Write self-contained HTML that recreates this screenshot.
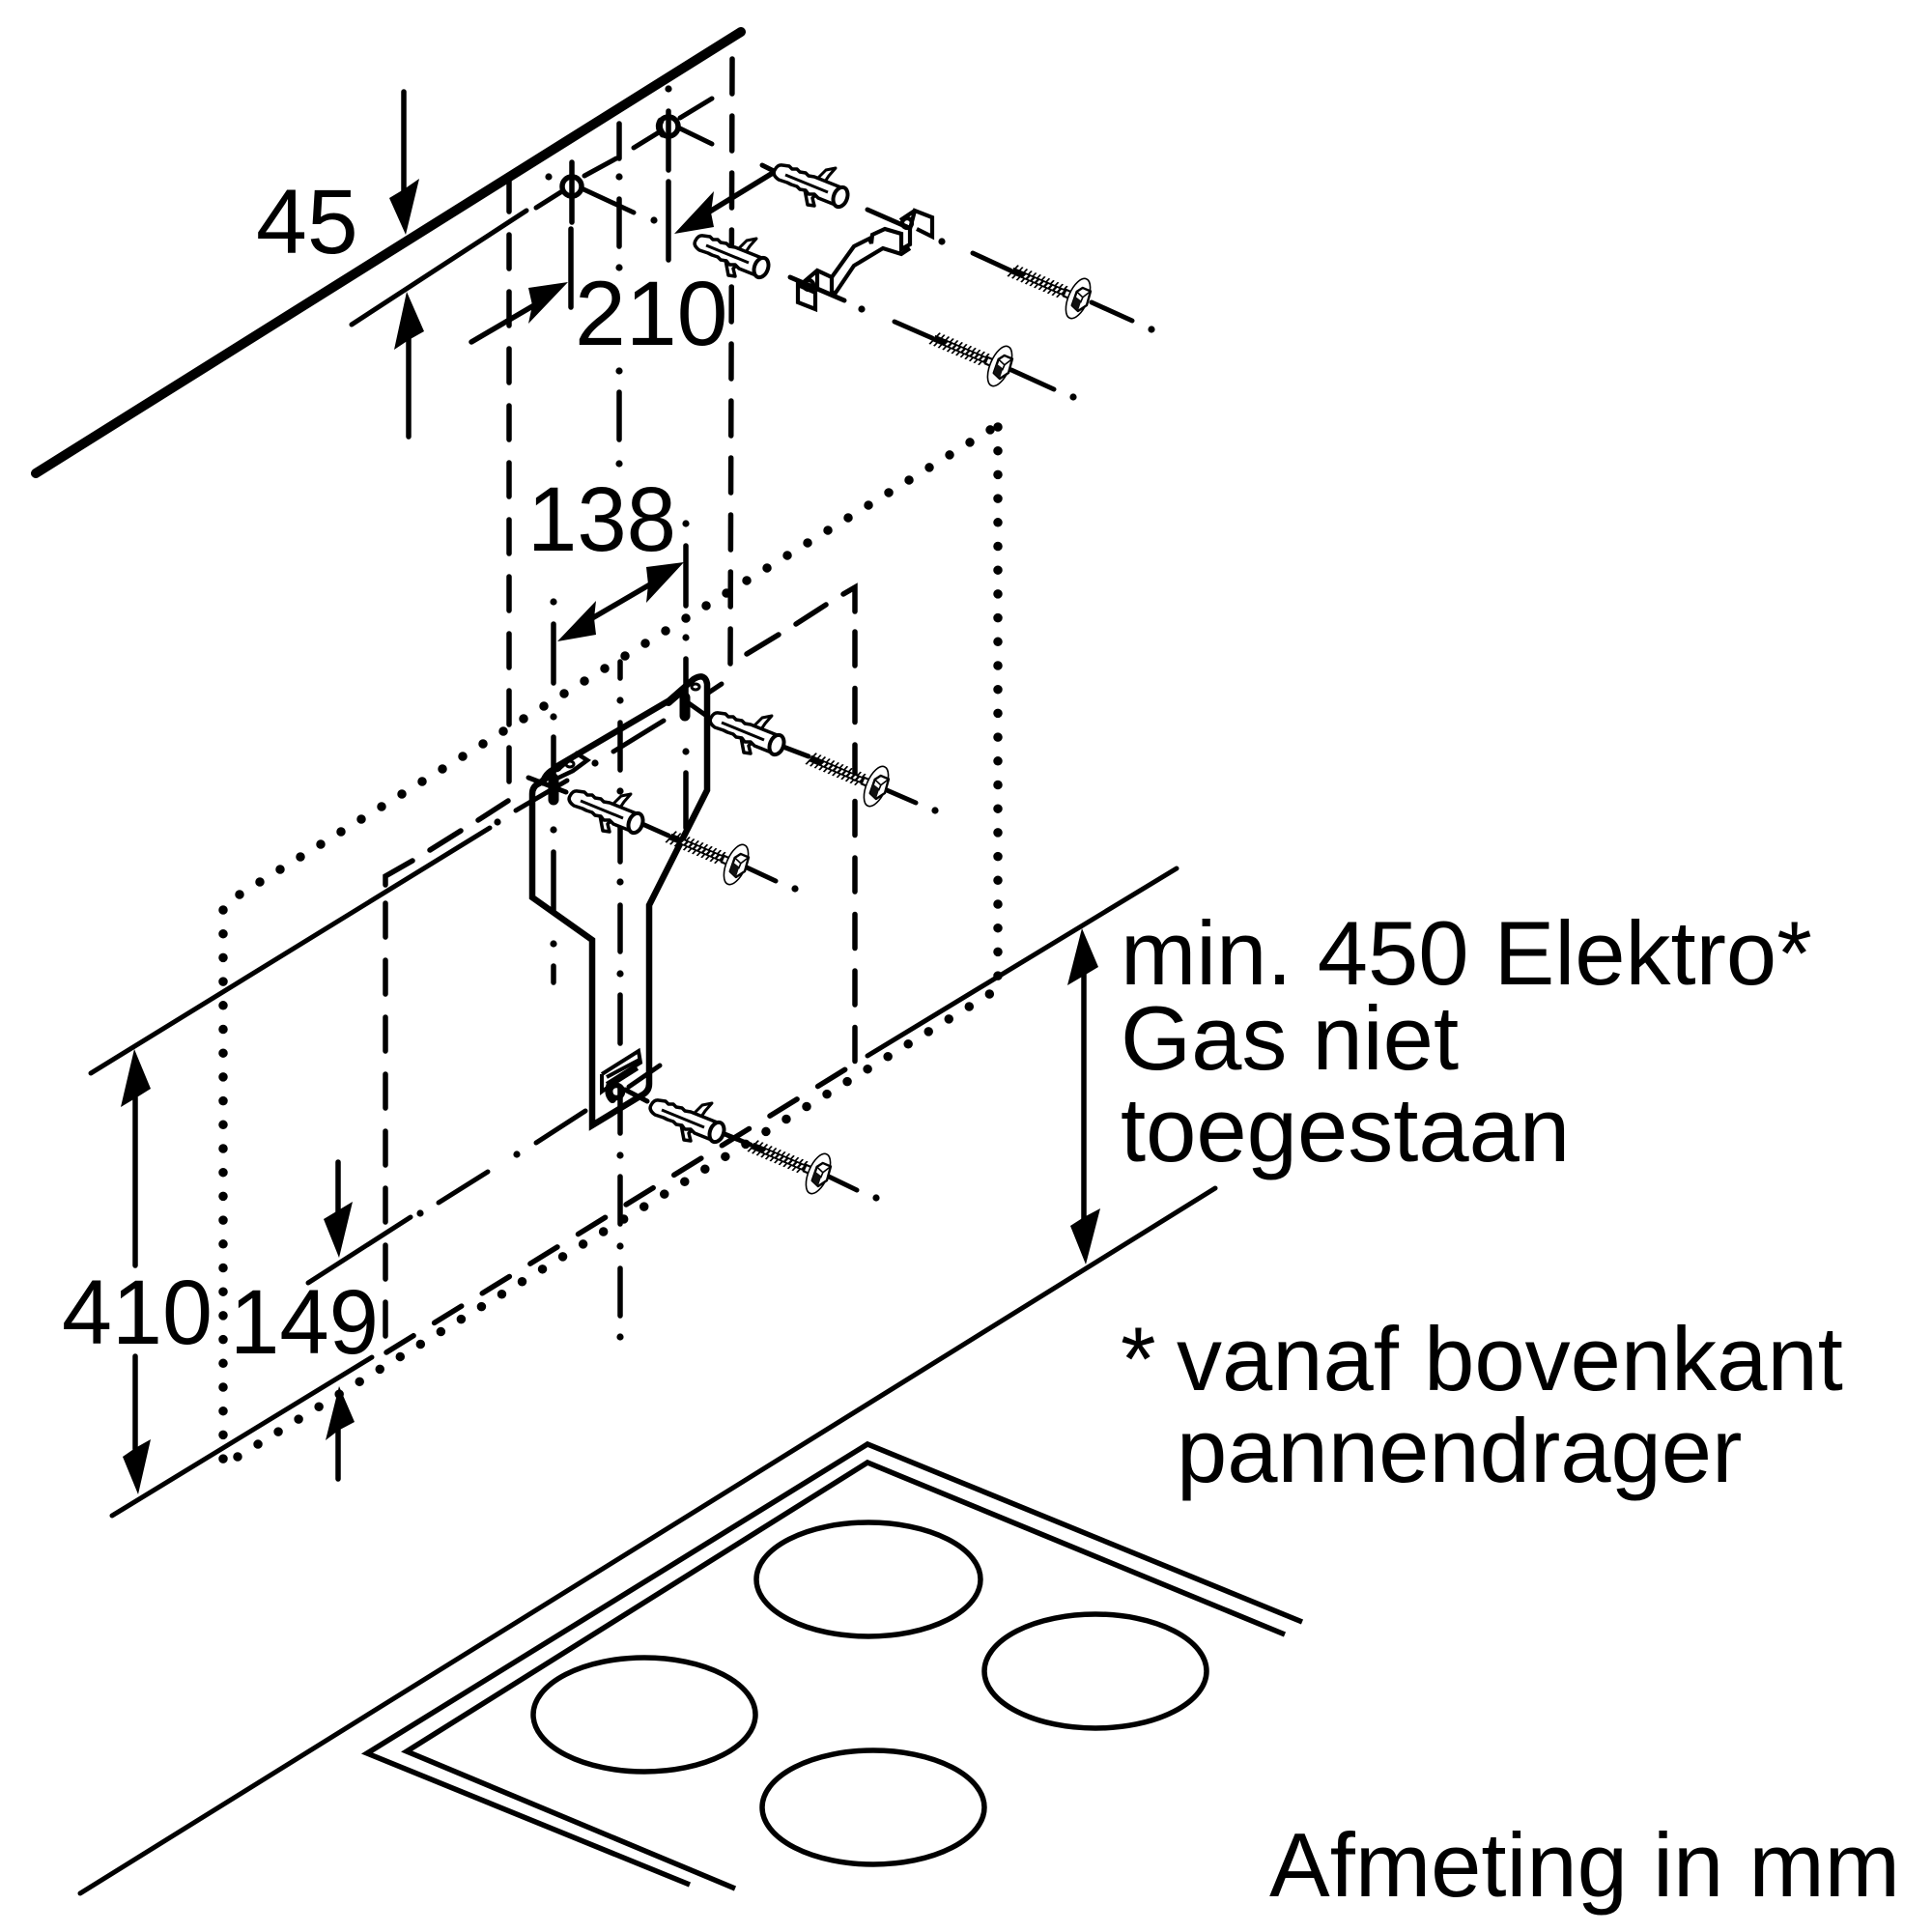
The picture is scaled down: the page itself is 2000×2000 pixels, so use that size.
<!DOCTYPE html>
<html lang="nl">
<head>
<meta charset="utf-8">
<title>Montage diagram</title>
<style>
html,body{margin:0;padding:0;background:#fff}
svg{display:block}
text{font-family:"Liberation Sans",sans-serif;fill:#000}
</style>
</head>
<body>
<svg xmlns="http://www.w3.org/2000/svg" width="2000" height="2000" viewBox="0 0 2000 2000">
<defs>
<g id="dowel">
  <path d="M26,17 L29,33 L36,34 L34,26 L38,22 Z" fill="#fff" stroke="#000" stroke-width="3.5" stroke-linejoin="round"/>
  <path d="M38,7 L48,-3 L58,-5 L51,3 L47,9 Z" fill="#fff" stroke="#000" stroke-width="3" stroke-linejoin="round"/>
  <path d="M3,-8 L10,-7 L13,-4 L18,-4 L21,-1 L27,0 L30,3 L36,4 L66,16 L60,34 L40,26 L36,22 L30,22 L27,18 L21,17 L18,14 L12,12 L8,10 L-1,7 Q-8,2 -5,-3 Q-2,-9 3,-8 Z" fill="#fff" stroke="#000" stroke-width="3.5" stroke-linejoin="round"/>
  <path d="M6,2 L50,20" stroke="#000" stroke-width="3" fill="none"/>
  <ellipse cx="63" cy="25" rx="7" ry="10.5" transform="rotate(20 63 25)" fill="#fff" stroke="#000" stroke-width="4"/>
</g>
<g id="screw">
  <path d="M-74,0 H-14" stroke="#000" stroke-width="7" fill="none"/>
  <g transform="skewX(-20)">
    <path d="M-74,0 H-16" stroke="#000" stroke-width="15" stroke-dasharray="1.8 3.2" fill="none"/>
    <path d="M-60,0 H-16" stroke="#fff" stroke-width="3.5" stroke-dasharray="2.5 2.5" fill="none"/>
  </g>
  <path d="M-16,-3.5 H-7 M-16,3.5 H-7" stroke="#000" stroke-width="2.2" fill="none"/>
  <path d="M-14,0 H-7" stroke="#fff" stroke-width="2" fill="none"/>
  <ellipse cx="0" cy="0" rx="10" ry="22" fill="#fff" stroke="#000" stroke-width="1.6"/>
  <path d="M0,-12 L9,-12 L11,3 L5,12 L-3,9 L-4,-6 Z" fill="#fff" stroke="#000" stroke-width="2.4" stroke-linejoin="round"/>
  <path d="M-4,-1 L4,1 L5,12 L-3,9 Z" fill="#111"/>
  <path d="M4,-3 L9,-12 M-4,-6 L4,-3 V3" stroke="#000" stroke-width="1.6" fill="none"/>
</g>
</defs>

<g fill="none" stroke="#000" stroke-linecap="round" stroke-linejoin="miter">
  <!-- wall -->
  <path d="M37,490 L767,33" stroke-width="10"/>

  <!-- vertical long dashes -->
  <g stroke-width="5.5">
    <path d="M527,184 V811" stroke-dasharray="35 24"/>
    <path d="M758,61 L756,688" stroke-dasharray="36 23"/>
    <path d="M399,935 V1385" stroke-dasharray="35 24"/>
    <path d="M885,654 V1102" stroke-dasharray="35 23.5"/>
    <path d="M399,916 V907 L427,891 M445,880 L477,860 M495,849 L526,829"/>
    <path d="M773,677 L806,657 M824,646 L855,626 M873,615 L885,608 V633"/>
    <path d="M400,1400 L880,1104" stroke-dasharray="33 25.3"/>
  </g>

  <!-- dotted rectangle -->
  <g stroke-width="9.5">
    <path d="M231,942 V1512" stroke-dasharray="0 24.7"/>
    <path d="M248,926 L1033,440" stroke-dasharray="0 24.7"/>
    <path d="M1033,442 V1012" stroke-dasharray="0 24.7"/>
    <path d="M246,1508 L1026,1028" stroke-dasharray="0 24.7"/>
  </g>

  <!-- thin horizontal-ish lines -->
  <g stroke-width="5">
    <path d="M364,336 L545,218"/>
    <path d="M555,215 L582,198 M605,182 L638,164"/>
    <path d="M656,153 L682,137 M704,122 L737,102"/>
    <path d="M602,195 L656,220"/>
    <path d="M702,132 L737,149"/>
    <path d="M94,1111 L507,857"/>
    <path d="M534,839 L587,808"/>
    <path d="M547,805 L586,820"/>
    <path d="M713,728 L730,740"/>
    <path d="M732,718 L747,708"/>
    <path d="M635,778 L687,746"/>
    <path d="M116,1569 L385,1405"/>
    <path d="M319,1328 L425,1260"/>
    <path d="M454,1245 L505,1213"/>
    <path d="M555,1183 L606,1150"/>
    <path d="M651,1125 L683,1103"/>
    <path d="M647,1128 L670,1140"/>
    <path d="M898,1093 L1218,899"/>
    <path d="M1258,1230 L83,1960"/>
  </g>

  <!-- vertical dash-dot segments -->
  <g stroke-width="5.5">
    <path d="M592,168 V230 M591,237 V318"/>
    <path d="M692,115 V176 M692,188 V269"/>
    <path d="M641,128 V164 M641,206 V255 M641,406 V455"/>
    <path d="M642,685 V702 M642,748 V797 M642,843 V892 M642,937 V985 M642,1030 V1080 M642,1125 V1173 M642,1218 V1267 M642,1313 V1362"/>
    <path d="M573,646 V707 M573,763 V812 M573,882 V942 M573,1000 V1017"/>
    <path d="M710,565 V627 M710,682 V743 M710,800 V857"/>
  </g>

  <!-- holes -->
  <circle cx="592" cy="193" r="10" stroke-width="5.5"/>
  <circle cx="692" cy="131" r="10" stroke-width="5.5"/>
  <path d="M684,125 Q680,132 686,139" stroke-width="7"/>

  <!-- top bracket -->
  <g stroke-width="4.2" stroke-linecap="butt">
    <path d="M826,295 L844,303 V320 L826,313 Z"/>
    <path d="M832,292 L846,280 L861,287 L884,255 L900,247 L902,252 L903,243 L916,237 L933,242 V258 L942,253 V237 L947,218 L965,225 V245 L949,237"/>
    <path d="M861,303 L865,303 L884,275 L914,257 L933,263 L942,257 M846,280 V300 M861,287 V303 M932,228 L947,218"/>
    <circle cx="939" cy="231" r="5"/>
    <circle cx="837" cy="295" r="5"/>
  </g>
  <g stroke-width="5">
    <path d="M898,217 L939,235"/>
    <path d="M818,287 L874,311"/>
    <path d="M789,171 L807,180"/>
  </g>

  <!-- screw axes -->
  <g stroke-width="5">
    <path d="M1007,262 L1046,280 M1130,313 L1172,332"/>
    <path d="M926,333 L965,350 M1047,383 L1091,403"/>
    <path d="M808,772 L837,783 M918,818 L948,831"/>
    <path d="M665,853 L692,865 M773,898 L803,912"/>
    <path d="M743,1171 L777,1185 M858,1218 L887,1232"/>
  </g>

  <!-- wall bracket -->
  <path d="M551,929 V822 Q551,814 558,811 L566,805 L577,793 L693,725 L718,703 Q730,696 732,708 V818 L672,937 V1122 Q672,1130 664,1134 L613,1165 V973 Z" stroke-width="6.5"/>
  <path d="M577,797 L597,780 L608,787 L593,798 L572,808" stroke-width="4.5"/>
  <path d="M562,810 Q566,798 578,795" stroke-width="7"/>
  <path d="M573,806 V828" stroke-width="11"/>
  <path d="M692,727 L708,713" stroke-width="8"/>
  <path d="M709,722 V741" stroke-width="11"/>
  <ellipse cx="720" cy="711" rx="4" ry="3" stroke-width="3"/>
  <ellipse cx="590" cy="791" rx="4" ry="3" stroke-width="3"/>
  <!-- lower slot -->
  <g stroke-width="4" stroke-linecap="butt">
    <path d="M623,1112 L661,1088 L663,1100 L628,1122 M623,1112 V1130 L630,1125"/>
    <path d="M628,1115 L662,1097 M630,1125 L660,1106"/>
  </g>
  <circle cx="638" cy="1130" r="6.5" stroke-width="5.5"/>
  <path d="M632,1122 Q628,1132 634,1138" stroke-width="8"/>

  <!-- dimension shafts -->
  <g stroke-width="5.5">
    <path d="M418,95 V200"/>
    <path d="M423,452 V345"/>
    <path d="M488,354 L553,316"/>
    <path d="M733,220 L800,179"/>
    <path d="M613,640 L673,605"/>
    <path d="M140,1136 V1310 M140,1404 V1500"/>
    <path d="M350,1203 V1255"/>
    <path d="M350,1531 V1480"/>
    <path d="M1122,1005 V1265"/>
  </g>

  <!-- cooktop -->
  <g stroke-width="5.5" stroke-linecap="butt">
    <path d="M1348,1679 L898,1495 L380,1815 L714,1951"/>
    <path d="M1330,1692 L898,1514 L421,1813 L761,1955"/>
    <ellipse cx="899" cy="1635" rx="116" ry="59"/>
    <ellipse cx="1134" cy="1730" rx="115" ry="59"/>
    <ellipse cx="667" cy="1775" rx="115" ry="59"/>
    <ellipse cx="904" cy="1871" rx="115" ry="59"/>
  </g>
</g>

<!-- small dots -->
<g fill="#000">
  <circle cx="692" cy="92" r="3.6"/><circle cx="568" cy="183" r="3.6"/><circle cx="641" cy="183" r="3.6"/>
  <circle cx="677" cy="228" r="3.6"/><circle cx="641" cy="277" r="3.6"/><circle cx="641" cy="384" r="3.6"/>
  <circle cx="641" cy="480" r="3.6"/><circle cx="710" cy="542" r="3.6"/><circle cx="710" cy="660" r="3.6"/>
  <circle cx="710" cy="778" r="3.6"/><circle cx="573" cy="623" r="3.6"/><circle cx="573" cy="742" r="3.6"/>
  <circle cx="573" cy="859" r="3.6"/><circle cx="573" cy="977" r="3.6"/><circle cx="642" cy="725" r="3.6"/>
  <circle cx="642" cy="819" r="3.6"/><circle cx="642" cy="913" r="3.6"/><circle cx="642" cy="1008" r="3.6"/>
  <circle cx="642" cy="1196" r="3.6"/><circle cx="642" cy="1290" r="3.6"/><circle cx="642" cy="1384" r="3.6"/>
  <circle cx="616" cy="790" r="3.6"/><circle cx="515" cy="851" r="3.6"/><circle cx="535" cy="1195" r="3.6"/>
  <circle cx="435" cy="1256" r="3.6"/><circle cx="975" cy="250" r="3.6"/><circle cx="892" cy="320" r="3.6"/>
  <circle cx="1192" cy="341" r="3.6"/><circle cx="1111" cy="411" r="3.6"/><circle cx="968" cy="839" r="3.6"/>
  <circle cx="823" cy="920" r="3.6"/><circle cx="907" cy="1240" r="3.6"/>
</g>

<!-- arrowheads -->
<g fill="#000">
  <path d="M420,243 L403,205 L418,196 L434,185 Z"/>
  <path d="M421,302 L439,343 L423,352 L408,362 Z"/>
  <path d="M588,292 L547,298 L551,316 L547,335 Z"/>
  <path d="M698,242 L739,198 L736,220 L739,235 Z"/>
  <path d="M708,582 L669,587 L671,605 L669,624 Z"/>
  <path d="M577,664 L617,622 L615,640 L617,657 Z"/>
  <path d="M139,1086 L125,1146 L140,1137 L156,1127 Z"/>
  <path d="M143,1547 L127,1508 L140,1499 L156,1490 Z"/>
  <path d="M351,1302 L335,1262 L350,1253 L365,1244 Z"/>
  <path d="M351,1435 L337,1491 L350,1481 L367,1472 Z"/>
  <path d="M1120,961 L1105,1020 L1122,1010 L1137,1001 Z"/>
  <path d="M1124,1309 L1108,1269 L1122,1260 L1139,1251 Z"/>
</g>

<!-- dowels -->
<use href="#dowel" transform="translate(807,179)"/>
<use href="#dowel" transform="translate(725,252)"/>
<use href="#dowel" transform="translate(741,746)"/>
<use href="#dowel" transform="translate(595,827)"/>
<use href="#dowel" transform="translate(679,1147)"/>

<!-- screws -->
<use href="#screw" transform="translate(1116,309) rotate(23)"/>
<use href="#screw" transform="translate(1035,379) rotate(23)"/>
<use href="#screw" transform="translate(907,814) rotate(23)"/>
<use href="#screw" transform="translate(762,895) rotate(23)"/>
<use href="#screw" transform="translate(847,1215) rotate(23)"/>

<!-- dimension text -->
<g font-size="95">
  <text x="265" y="262">45</text>
  <text x="595" y="357">210</text>
  <text x="546" y="570" textLength="154" lengthAdjust="spacingAndGlyphs">138</text>
  <text x="64" y="1391" textLength="156" lengthAdjust="spacingAndGlyphs">410</text>
  <text x="238" y="1401" textLength="154" lengthAdjust="spacingAndGlyphs">149</text>
</g>
<g font-size="94">
  <text x="1160" y="1019">min. 450 Elektro*</text>
  <text x="1160" y="1107">Gas niet</text>
  <text x="1160" y="1202">toegestaan</text>
  <text x="1160" y="1439">*</text>
  <text x="1218" y="1439">vanaf bovenkant</text>
  <text x="1218" y="1534">pannendrager</text>
  <text x="1314" y="1963">Afmeting in mm</text>
</g>
</svg>
</body>
</html>
